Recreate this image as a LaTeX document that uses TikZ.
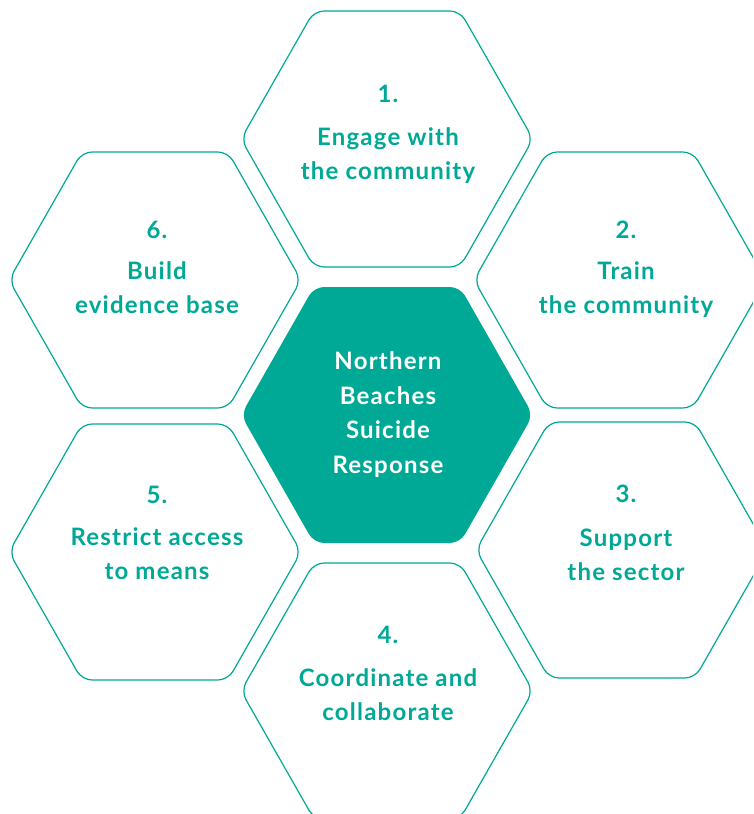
\documentclass[tikz,border=0pt]{standalone}
\usepackage{fontspec}
\setmainfont{Lato}[LetterSpace=5]
\definecolor{nbteal}{HTML}{00A896}
\begin{document}
\begin{tikzpicture}[x=1pt,y=-1pt,
  hexline/.style={draw=nbteal,line width=1.2pt,rounded corners=10pt},
  hexfill/.style={fill=nbteal,draw=none,rounded corners=10pt},
  hexlabel/.style={text=nbteal,font=\fontsize{24}{34}\selectfont\bfseries,align=center,anchor=base,inner sep=0pt},
  centrelabel/.style={text=white,font=\fontsize{24}{34.4}\selectfont\bfseries,align=center,anchor=base,inner sep=0pt}]
\useasboundingbox (0,0) rectangle (753,814);
\clip (0,0) rectangle (753,814);
\newcommand\hexshape[3]{%
  \path[#1,shift={(#2,#3)}] (-146,0) -- (-73,-128) -- (73,-128) -- (146,0) -- (73,128) -- (-73,128) -- cycle;}
% hexagons
\hexshape{hexline}{387}{139}
\hexshape{hexfill}{387}{415}
\hexshape{hexline}{387}{691}
\hexshape{hexline}{155}{280}
\hexshape{hexline}{155}{552}
\hexshape{hexline}{620}{280}
\hexshape{hexline}{622}{550}
% labels (anchored at the baseline of the last line)
\node[hexlabel] (t1) at (388,179) {1.\\[9pt]Engage with\\the community};
\node[hexlabel] (t2) at (626,313) {2.\\[7pt]Train\\the community};
\node[hexlabel] (t3) at (626,580) {3.\\[10pt]Support\\the sector};
\node[hexlabel] (t4) at (388,720) {4.\\[9pt]Coordinate and\\collaborate};
\node[hexlabel] (t5) at (157,579) {5.\\[8pt]Restrict access\\to means};
\node[hexlabel] (t6) at (157,313) {6.\\[7pt]Build\\evidence base};
\node[centrelabel] (tc) at (388,473) {Northern\\Beaches\\Suicide\\Response};
\end{tikzpicture}
\end{document}
